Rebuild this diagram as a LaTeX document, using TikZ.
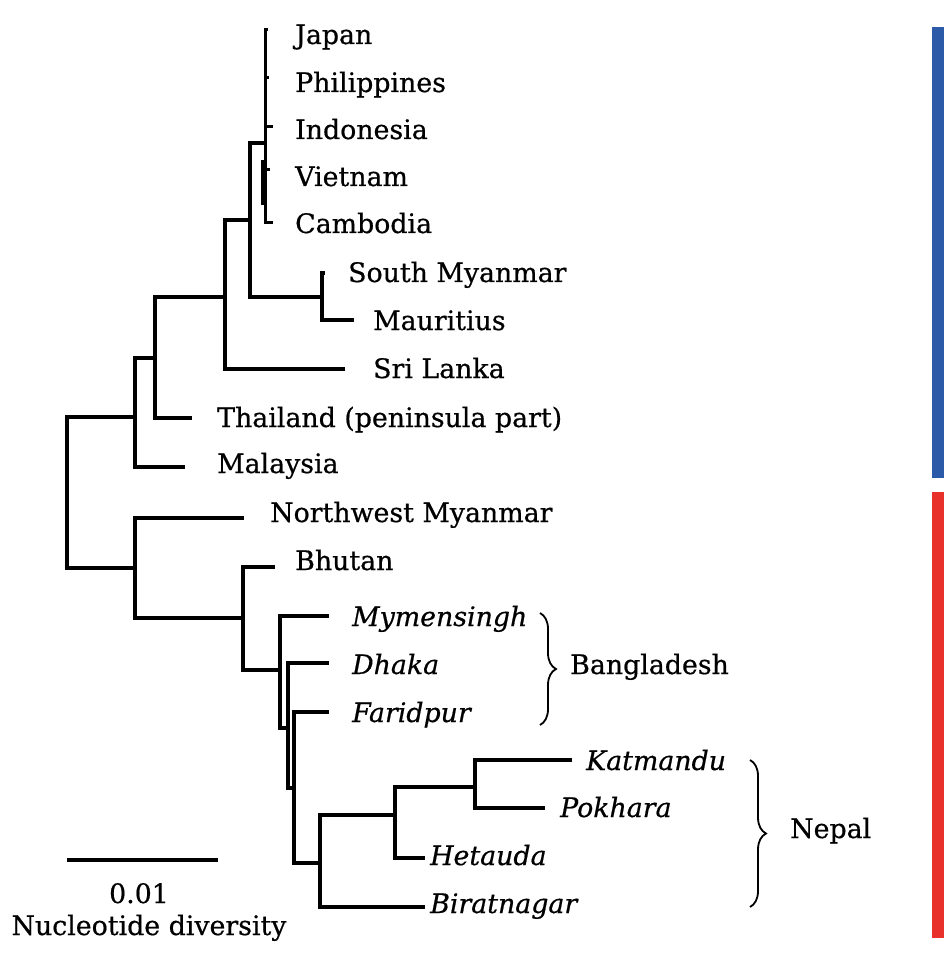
\documentclass[tikz,border=0pt]{standalone}
\usepackage{fontspec}
\setmainfont{DejaVu Serif}[FakeBold=0.6,ItalicFeatures={FakeBold=0.6}]
\usetikzlibrary{decorations.pathreplacing}
\definecolor{barblue}{RGB}{43,91,168}
\definecolor{barred}{RGB}{232,49,42}
\begin{document}
\begin{tikzpicture}[x=1pt,y=-1pt,
  br/.style={line width=3.6pt,line cap=rect,line join=miter},
  thin br/.style={line width=3pt,line cap=butt},
  lbl/.style={anchor=base west,inner sep=0pt,font=\fontsize{26.8}{30}\selectfont},
  ilbl/.style={lbl,font=\fontsize{26.8}{30}\selectfont\itshape},
  grp/.style={decorate,decoration={brace,amplitude=16pt},line width=1.8pt}]
\useasboundingbox (0,0) rectangle (944,957);
\fill[white] (0,0) rectangle (944,957);
% colour bars
\fill[barblue] (932,27) rectangle (944,478);
\fill[barred] (932,492) rectangle (944,938);
% labels
\node[lbl] (japan) at (295,44) {Japan};
\node[lbl] (phil) at (295,92) {Philippines};
\node[lbl] (indo) at (295,139) {Indonesia};
\node[lbl] (viet) at (295,186) {Vietnam};
\node[lbl] (camb) at (295,233) {Cambodia};
\node[lbl] (smya) at (348,282) {South Myanmar};
\node[lbl] (maur) at (373,330) {Mauritius};
\node[lbl] (sril) at (373,378) {Sri Lanka};
\node[lbl] (thai) at (217,427) {Thailand (peninsula part)};
\node[lbl] (mala) at (217,473) {Malaysia};
\node[lbl] (nwmy) at (270,522) {Northwest Myanmar};
\node[lbl] (bhut) at (295,570) {Bhutan};
\node[ilbl] (myme) at (352,626) {Mymensingh};
\node[ilbl] (dhak) at (352,674) {Dhaka};
\node[ilbl] (fari) at (352,722) {Faridpur};
\node[ilbl] (katm) at (586,770) {Katmandu};
\node[ilbl] (pokh) at (560,817) {Pokhara};
\node[ilbl] (heta) at (430,865) {Hetauda};
\node[ilbl] (bira) at (430,913) {Biratnagar};
\node[lbl] (bang) at (570,674) {Bangladesh};
\node[lbl] (nepa) at (790,838) {Nepal};
\node[lbl,anchor=base] (scl) at (139,903) {0.01};
\node[lbl,anchor=base] (nuc) at (149,935) {Nucleotide diversity};
% tip coordinates (ends of leaf branches)
\coordinate (tJapan) at (268,30);
\coordinate (tPhil) at (269,78);
\coordinate (tIndo) at (273,127);
\coordinate (tViet) at (270,170);
\coordinate (tCamb) at (273,223);
\coordinate (tSmya) at (323,273);
\coordinate (tMaur) at (352,320);
\coordinate (tSril) at (343,369);
\coordinate (tThai) at (190,418);
\coordinate (tMala) at (183,467);
\coordinate (tNwmy) at (242,518);
\coordinate (tBhut) at (273,567);
\coordinate (tMyme) at (327,616);
\coordinate (tDhak) at (327,663);
\coordinate (tFari) at (327,712);
\coordinate (tKatm) at (570,760);
\coordinate (tPokh) at (543,808);
\coordinate (tHeta) at (423,858);
\coordinate (tBira) at (423,907);
% internal nodes (x of vertical, y of incoming branch)
\coordinate (R) at (67,492);
\coordinate (A) at (135,417);
\coordinate (A1) at (155,358);
\coordinate (A2) at (225,297);
\coordinate (A3) at (250,220);
\coordinate (A4) at (265,143);
\coordinate (A5) at (322,297);
\coordinate (B) at (135,568);
\coordinate (B1) at (243,618);
\coordinate (B2) at (280,670);
\coordinate (B3) at (288,728);
\coordinate (B4) at (294,788);
\coordinate (B5) at (320,863);
\coordinate (B6) at (395,815);
\coordinate (B7) at (475,787);
% branches
\draw[br] (A) -| (R) |- (B);
\draw[br] (A1) -| (A) |- (tMala);
\draw[br] (A2) -| (A1) |- (tThai);
\draw[br] (A3) -| (A2) |- (tSril);
\draw[br] (A4) -| (A3) |- (A5);
\draw[br] (tSmya) -| (A5) |- (tMaur);
\draw[thin br] (tJapan) -| (265,30) -- (265,223) -- (tCamb);
\draw[thin br] (265,78) -- (tPhil);
\draw[thin br] (265,127) -- (tIndo);
\draw[thin br] (262,160) -- (262,205);
\draw[thin br] (265,170) -- (tViet);
\draw[br] (tNwmy) -| (B) |- (B1);
\draw[br] (tBhut) -| (B1) |- (B2);
\draw[br] (tMyme) -| (B2) |- (B3);
\draw[br] (tDhak) -| (B3) |- (B4);
\draw[br] (tFari) -| (B4) |- (B5);
\draw[br] (B6) -| (B5) |- (tBira);
\draw[br] (B7) -| (B6) |- (tHeta);
\draw[br] (tKatm) -| (B7) |- (tPokh);
% scale bar
\coordinate (s0) at (67,860);
\coordinate (s1) at (218,860);
\draw[line width=4.5pt] (s0) -- (s1);
% braces
\draw[grp] (540,613) -- (540,725);
\draw[grp] (750,760) -- (750,907);
\end{tikzpicture}
\end{document}
